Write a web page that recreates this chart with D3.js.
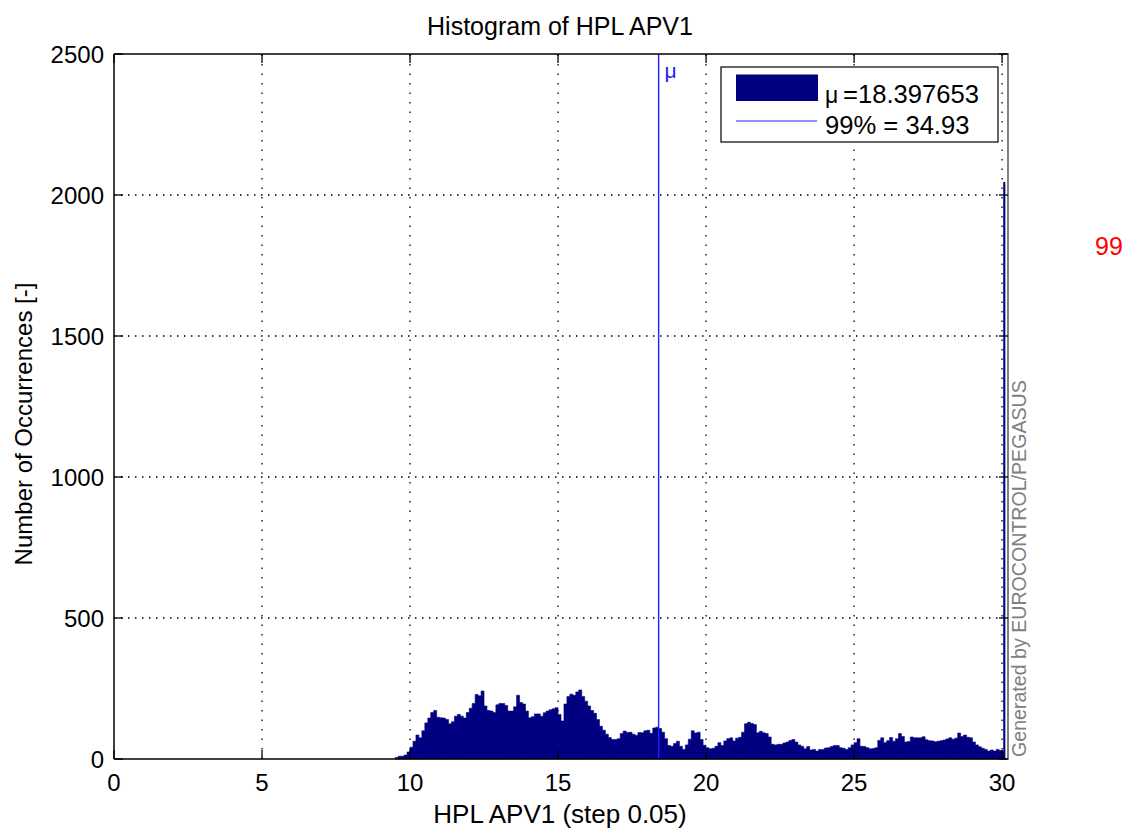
<!DOCTYPE html>
<html>
<head>
<meta charset="utf-8">
<script src="https://cdn.jsdelivr.net/npm/d3@7"></script>
<style>
  body { margin: 0; background: #fff; }
  text { font-family: "Liberation Sans", Arial, Helvetica, sans-serif; }
</style>
</head>
<body>
<div id="chart"></div>
<script>
// Histogram counts, one value per 0.1 bin starting at 9.5
const firstBin = 9.5;
const binStep = 0.1;
const counts = [
  5, 10, 10, 14, 25,                                   // 9.5 - 9.9
  42, 63, 85, 75, 100, 128, 145, 165, 172, 148,        // 10.x
  146, 145, 140, 125, 132, 152, 158, 152, 145, 165,    // 11.x
  180, 197, 229, 224, 241, 188, 172, 170, 165, 192,    // 12.x
  197, 197, 190, 170, 170, 185, 226, 200, 195, 170,    // 13.x
  146, 150, 160, 160, 152, 164, 170, 175, 178, 182,    // 14.x
  158, 135, 195, 222, 230, 226, 238, 245, 222, 205,    // 15.x
  188, 172, 162, 140, 116, 102, 88, 76, 69, 69,        // 16.x
  72, 90, 99, 94, 95, 88, 84, 94, 93, 100,             // 17.x
  102, 91, 110, 113, 108, 95, 72, 48, 45, 55,          // 18.x
  63, 45, 34, 50, 70, 100, 92, 95, 69, 49,             // 19.x
  40, 36, 38, 45, 58, 48, 64, 72, 75, 64,              // 20.x
  74, 77, 95, 125, 130, 126, 122, 93, 98, 93,          // 21.x
  90, 78, 52, 50, 52, 52, 57, 60, 66, 69,              // 22.x
  60, 50, 45, 36, 44, 32, 34, 28, 34, 34,              // 23.x
  39, 40, 44, 48, 48, 40, 38, 34, 40, 50,              // 24.x
  58, 72, 45, 44, 40, 36, 37, 40, 66, 75,              // 25.x
  58, 65, 76, 63, 72, 90, 80, 60, 62, 78,              // 26.x
  75, 75, 75, 79, 68, 65, 64, 61, 63, 65,              // 27.x
  67, 71, 75, 70, 74, 92, 80, 85, 77, 75,              // 28.x
  60, 50, 43, 38, 34, 28, 32, 28, 34, 30               // 29.x
];
// the last two bins at the right edge, the tall one holds everything above 30
const tailEdges = [30.0, 30.05, 30.1];
const tailCounts = [28, 2045];

const meanValue = 18.397653;
const xTicks = [0, 5, 10, 15, 20, 25, 30];
const yTicks = [0, 500, 1000, 1500, 2000, 2500];
const legendLabels = ["=18.397653", "99% = 34.93"];

const width = 1123;
const height = 831;
const navy = "#000080";

const x = d3.scaleLinear().domain([0, 30.2]).range([114, 1008]);
const y = d3.scaleLinear().domain([0, 2500]).range([759, 54]);

const svg = d3.select("#chart")
  .append("svg")
  .attr("width", width)
  .attr("height", height)
  .style("display", "block");

svg.append("rect")
  .attr("width", width)
  .attr("height", height)
  .attr("fill", "#fff");

// dotted grid
svg.append("g")
  .selectAll("line")
  .data(xTicks.filter(d => d > 0))
  .join("line")
  .attr("x1", d => x(d)).attr("x2", d => x(d))
  .attr("y1", y(0)).attr("y2", y(2500))
  .attr("stroke", "#000")
  .attr("stroke-width", 1.3)
  .attr("stroke-dasharray", "1.5,8");

svg.append("g")
  .selectAll("line")
  .data(yTicks.filter(d => d > 0 && d < 2500))
  .join("line")
  .attr("x1", x(0)).attr("x2", x(30.2))
  .attr("y1", d => y(d)).attr("y2", d => y(d))
  .attr("stroke", "#000")
  .attr("stroke-width", 1.3)
  .attr("stroke-dasharray", "1.5,5.5");

// bins
const bins = counts.map((n, i) => ({ x0: firstBin + i * binStep, x1: firstBin + (i + 1) * binStep, n: n }));
tailCounts.forEach((n, i) => bins.push({ x0: tailEdges[i], x1: tailEdges[i + 1], n: n }));

const pts = bins.map(b => [b.x0, b.n]);
pts.push([bins[bins.length - 1].x1, bins[bins.length - 1].n]);

const area = d3.area()
  .x(d => x(d[0]))
  .y0(y(0))
  .y1(d => y(d[1]))
  .curve(d3.curveStepAfter);

svg.append("path")
  .datum(pts)
  .attr("d", area)
  .attr("fill", navy)
  .attr("stroke", navy)
  .attr("stroke-width", 0.6);

// mean line
svg.append("line")
  .attr("x1", x(meanValue)).attr("x2", x(meanValue))
  .attr("y1", y(0)).attr("y2", y(2500))
  .attr("stroke", "#2020ff")
  .attr("stroke-width", 1.4);

svg.append("text")
  .attr("x", x(meanValue) + 6)
  .attr("y", 78)
  .attr("font-size", 21)
  .attr("fill", "#2020ff")
  .text("μ");

// axes box
svg.append("line")
  .attr("x1", x(0)).attr("x2", x(30.2))
  .attr("y1", y(0)).attr("y2", y(0))
  .attr("stroke", "#000").attr("stroke-width", 1.5);
svg.append("line")
  .attr("x1", x(0)).attr("x2", x(30.2))
  .attr("y1", y(2500)).attr("y2", y(2500))
  .attr("stroke", "#000").attr("stroke-width", 1.5);
svg.append("line")
  .attr("x1", x(0)).attr("x2", x(0))
  .attr("y1", y(0)).attr("y2", y(2500))
  .attr("stroke", "#000").attr("stroke-width", 1.5);
svg.append("line")
  .attr("x1", x(30.2)).attr("x2", x(30.2))
  .attr("y1", y(0) + 1).attr("y2", y(2500) - 1)
  .attr("stroke", "#808080").attr("stroke-width", 2);

// inward ticks on all four sides
const tickLen = 9;
const ticks = svg.append("g").attr("stroke", "#000").attr("stroke-width", 1.3);
ticks.selectAll(".xb").data(xTicks).join("line")
  .attr("x1", d => x(d)).attr("x2", d => x(d))
  .attr("y1", y(0)).attr("y2", y(0) - tickLen);
ticks.selectAll(".xt").data(xTicks).join("line")
  .attr("x1", d => x(d)).attr("x2", d => x(d))
  .attr("y1", y(2500)).attr("y2", y(2500) + tickLen);
ticks.selectAll(".yl").data(yTicks).join("line")
  .attr("x1", x(0)).attr("x2", x(0) + tickLen)
  .attr("y1", d => y(d)).attr("y2", d => y(d));
ticks.selectAll(".yr").data(yTicks).join("line")
  .attr("x1", x(30.2)).attr("x2", x(30.2) - tickLen)
  .attr("y1", d => y(d)).attr("y2", d => y(d));

// tick labels
svg.append("g")
  .selectAll("text")
  .data(xTicks)
  .join("text")
  .attr("x", d => x(d))
  .attr("y", 791)
  .attr("text-anchor", "middle")
  .attr("font-size", 24)
  .text(d => d);

svg.append("g")
  .selectAll("text")
  .data(yTicks)
  .join("text")
  .attr("x", 104)
  .attr("y", d => y(d) + 8.5)
  .attr("text-anchor", "end")
  .attr("font-size", 24)
  .text(d => d);

// titles
svg.append("text")
  .attr("x", 560)
  .attr("y", 35)
  .attr("text-anchor", "middle")
  .attr("font-size", 25)
  .text("Histogram of HPL APV1");

svg.append("text")
  .attr("x", 560)
  .attr("y", 823)
  .attr("text-anchor", "middle")
  .attr("font-size", 26)
  .text("HPL APV1 (step 0.05)");

svg.append("text")
  .attr("transform", "translate(32,424) rotate(-90)")
  .attr("text-anchor", "middle")
  .attr("font-size", 24)
  .text("Number of Occurrences [-]");

svg.append("text")
  .attr("transform", "translate(1026,757) rotate(-90)")
  .attr("font-size", 19.6)
  .attr("fill", "#808080")
  .text("Generated by EUROCONTROL/PEGASUS");

// red label for the 99% line, cut off by the page edge as in the original
svg.append("text")
  .attr("x", 1095)
  .attr("y", 255)
  .attr("font-size", 25)
  .attr("fill", "red")
  .text("99%");

// legend
const legend = svg.append("g");
legend.append("rect")
  .attr("x", 721).attr("y", 67)
  .attr("width", 277).attr("height", 75)
  .attr("fill", "#fff")
  .attr("stroke", "#000")
  .attr("stroke-width", 1.2);
legend.append("rect")
  .attr("x", 736).attr("y", 74.5)
  .attr("width", 82).attr("height", 26.5)
  .attr("fill", navy);
legend.append("line")
  .attr("x1", 736).attr("x2", 817)
  .attr("y1", 121).attr("y2", 121)
  .attr("stroke", "#2020ff")
  .attr("stroke-width", 1.2);
legend.append("text")
  .attr("x", 825).attr("y", 103)
  .attr("font-size", 23)
  .text("μ");
legend.append("text")
  .attr("x", 843).attr("y", 103)
  .attr("font-size", 25.6)
  .text(legendLabels[0]);
legend.append("text")
  .attr("x", 825).attr("y", 134)
  .attr("font-size", 25.6)
  .text(legendLabels[1]);
</script>
</body>
</html>
